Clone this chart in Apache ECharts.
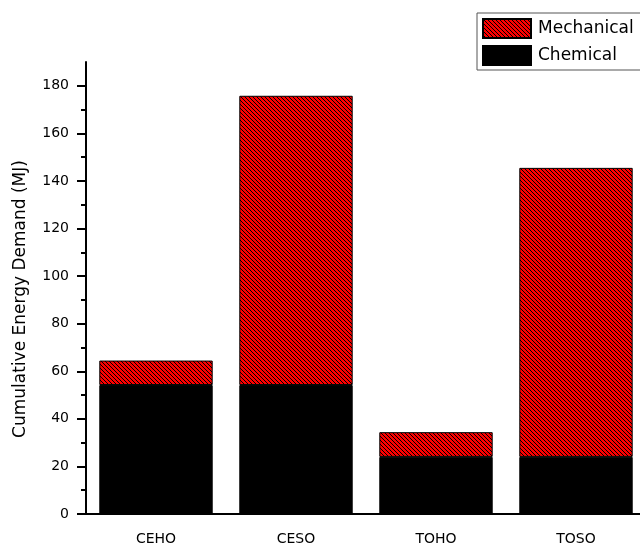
<!DOCTYPE html>
<html>
<head>
<meta charset="utf-8">
<script src="https://cdn.jsdelivr.net/npm/echarts@6/dist/echarts.min.js"></script>
<style>
  html, body { margin: 0; padding: 0; background: #fff; }
  #chart { width: 640px; height: 545px; }
</style>
</head>
<body>
<div id="chart"></div>
<script>
// Cumulative energy demand per process route (MJ), stacked by contribution
const categories = ['CEHO', 'CESO', 'TOHO', 'TOSO'];
const chemical = [54.2, 54.2, 24.0, 24.0];
const mechanical = [10.3, 121.6, 10.4, 121.5];
const majorTicks = [0, 20, 40, 60, 80, 100, 120, 140, 160, 180];
const minorTicks = [10, 30, 50, 70, 90, 110, 130, 150, 170];

// Red fill with thin black "\" hatching for the mechanical share
function hatchPattern() {
  const c = document.createElement('canvas');
  c.width = 4; c.height = 4;
  const ctx = c.getContext('2d');
  ctx.fillStyle = '#ff0000';
  ctx.fillRect(0, 0, 4, 4);
  ctx.fillStyle = '#000';
  for (let i = 0; i < 4; i++) ctx.fillRect(i, i, 1, 1);
  return c;
}

const font = '"DejaVu Sans", "Open Sans", sans-serif';
const chart = echarts.init(document.getElementById('chart'), null, { renderer: 'canvas' });

chart.setOption({
  animation: false,
  backgroundColor: '#fff',
  grid: { left: 86, top: 62, bottom: 31, right: -6, outerBoundsMode: 'none', containLabel: false },
  legend: {
    orient: 'vertical',
    left: 477,
    top: 13,
    padding: [5, 40, 4, 5],
    itemWidth: 48,
    itemHeight: 19,
    itemGap: 6,
    icon: 'rect',
    borderColor: '#555',
    borderWidth: 1,
    backgroundColor: '#fff',
    data: ['Mechanical', 'Chemical'],
    textStyle: { fontFamily: font, fontSize: 17, lineHeight: 19, color: '#000', padding: [0, 0, 0, 2] }
  },
  xAxis: [
    {
      type: 'category',
      data: categories,
      axisLine: { lineStyle: { color: '#000', width: 2 } },
      axisTick: { alignWithLabel: true, length: 8, lineStyle: { color: '#000', width: 2 } },
      axisLabel: { fontFamily: font, fontSize: 14, color: '#000', margin: 18 }
    },
    {
      type: 'category',
      data: categories,
      position: 'bottom',
      axisLine: { show: false },
      axisTick: { alignWithLabel: false, length: 4, lineStyle: { color: '#000', width: 2 } },
      axisLabel: { show: false }
    }
  ],
  yAxis: [
    {
      type: 'value',
      min: 0,
      max: 190,
      interval: 10,
      name: 'Cumulative Energy Demand (MJ)',
      nameLocation: 'middle',
      nameGap: 57,
      nameTextStyle: { fontFamily: font, fontSize: 17, color: '#000', padding: [0, 22, 0, 0] },
      axisLine: { show: true, lineStyle: { color: '#000', width: 2 } },
      axisTick: { show: true, length: 9, customValues: majorTicks, lineStyle: { color: '#000', width: 2 } },
      axisLabel: { customValues: majorTicks, fontFamily: font, fontSize: 14, color: '#000', margin: 17 },
      splitLine: { show: false }
    },
    {
      type: 'value',
      min: 0,
      max: 190,
      interval: 10,
      position: 'left',
      axisLine: { show: false },
      axisTick: { show: true, length: 5, customValues: minorTicks, lineStyle: { color: '#000', width: 2 } },
      axisLabel: { show: false },
      splitLine: { show: false }
    }
  ],
  series: [
    {
      name: 'Chemical',
      type: 'bar',
      stack: 'total',
      barCategoryGap: '19%',
      data: chemical,
      itemStyle: { color: '#000', borderColor: '#000', borderWidth: 1 }
    },
    {
      name: 'Mechanical',
      type: 'bar',
      stack: 'total',
      barCategoryGap: '19%',
      data: mechanical,
      itemStyle: { color: { image: hatchPattern(), repeat: 'repeat' }, borderColor: '#000', borderWidth: 1 }
    }
  ]
});
</script>
</body>
</html>
